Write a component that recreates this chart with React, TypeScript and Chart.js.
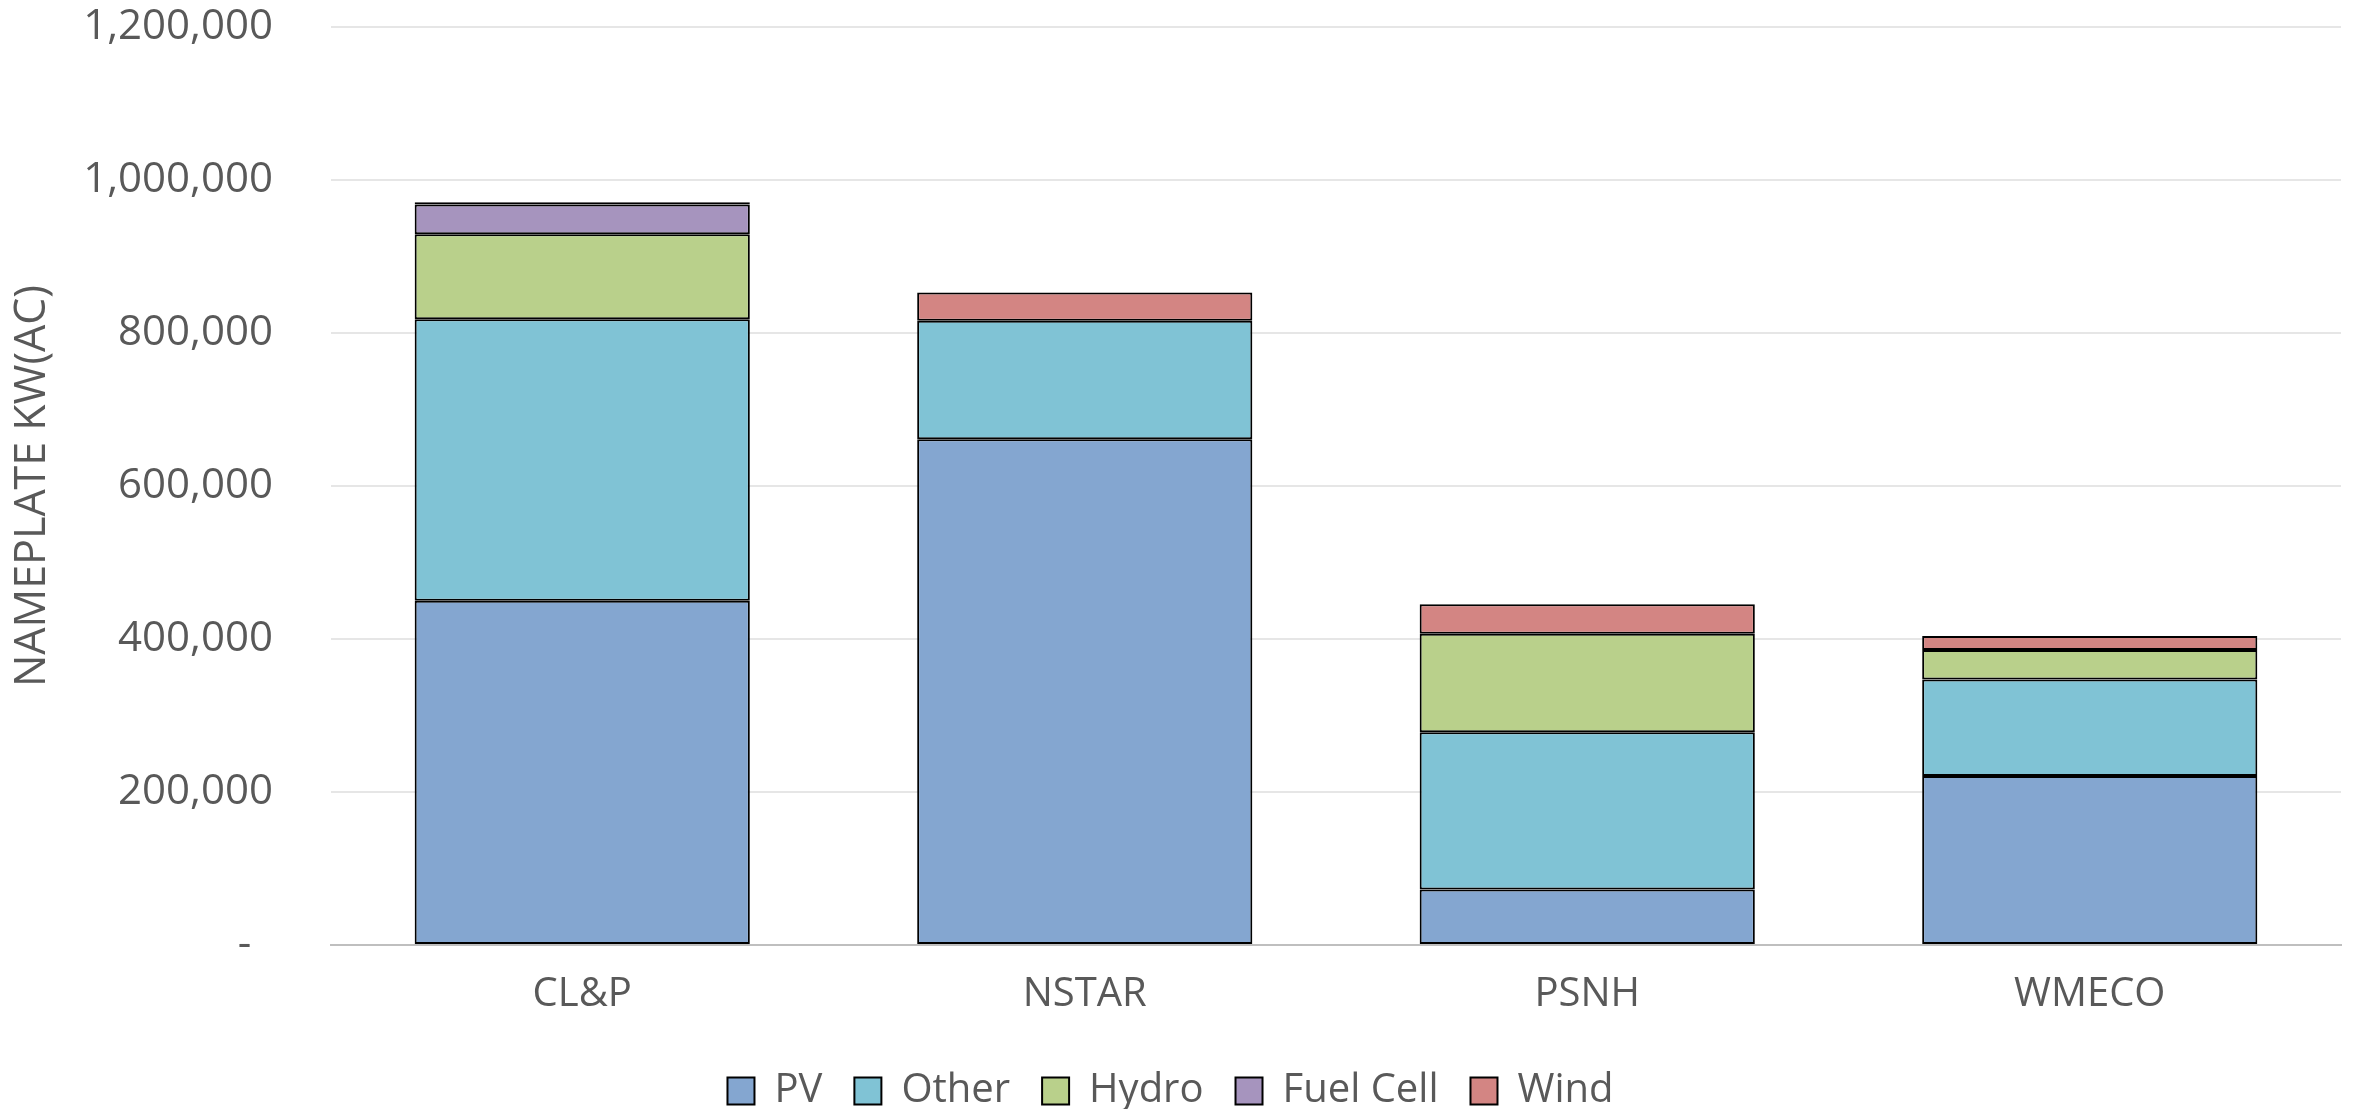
import React, { useEffect, useRef } from "react";
import { Chart, registerables } from "chart.js";

Chart.register(...registerables);

const categories = ["CL&P", "NSTAR", "PSNH", "WMECO"];
const seriesNames = ["PV", "Other", "Hydro", "Fuel Cell", "Wind"];
const pvValues = [450000, 661000, 72500, 221000];
const otherValues = [368000, 155000, 205500, 126000];
const hydroValues = [111000, 0, 129000, 38500];
const fuelCellValues = [39000, 0, 0, 0];
const windValues = [3000, 37000, 38500, 18500];
const seriesColors = ["#84A6D0", "#80C3D5", "#B9D08B", "#A694BE", "#D38583"];
const yMin = 0;
const yMax = 1200000;
const yStep = 200000;
const yTitle = "NAMEPLATE KW(AC)";

const FONT = "'Open Sans', sans-serif";
const TEXT = "#595959";

export default function App() {
  const ref = useRef<HTMLCanvasElement | null>(null);

  useEffect(() => {
    if (!ref.current) return;
    const values = [pvValues, otherValues, hydroValues, fuelCellValues, windValues];
    const chart = new Chart(ref.current, {
      type: "bar",
      data: {
        labels: categories,
        datasets: seriesNames.map((name, i) => ({
          label: name,
          data: values[i],
          backgroundColor: seriesColors[i],
          borderColor: "#000000",
          borderWidth: 2,
          borderSkipped: false,
          categoryPercentage: 1,
          barPercentage: 0.667,
        })),
      },
      options: {
        animation: false,
        responsive: true,
        maintainAspectRatio: false,
        layout: { padding: { top: 27, right: 15, bottom: -12, left: 0 } },
        plugins: {
          tooltip: { enabled: false },
          legend: {
            position: "bottom",
            labels: {
              font: { family: FONT, size: 40 },
              color: TEXT,
              boxWidth: 27,
              boxHeight: 27,
              padding: 32,
            },
          },
        },
        scales: {
          x: {
            stacked: true,
            grid: { display: false, drawTicks: false },
            border: { display: true, color: "#BFBFBF", width: 2 },
            ticks: {
              font: { family: FONT, size: 40 },
              color: TEXT,
              padding: 26,
            },
            afterFit: (scale: any) => {
              scale.height = 94;
            },
          },
          y: {
            stacked: true,
            min: yMin,
            max: yMax,
            border: { display: false },
            grid: {
              drawTicks: true,
              tickLength: 58,
              tickColor: "rgba(0,0,0,0)",
              lineWidth: 2,
              color: (ctx: any) => (ctx.tick && ctx.tick.value === 0 ? "#BFBFBF" : "#E6E6E6"),
            },
            ticks: {
              stepSize: yStep,
              font: { family: FONT, size: 42 },
              color: TEXT,
              padding: 0,
              callback: (v: any) => (Number(v) === 0 ? "-  " : Number(v).toLocaleString("en-US")),
            },
            title: {
              display: true,
              text: yTitle,
              font: { family: FONT, size: 43 },
              color: TEXT,
              padding: { top: 7, bottom: 0 },
            },
            afterFit: (scale: any) => {
              scale.width = 331;
            },
          },
        },
      },
    });
    return () => chart.destroy();
  }, []);

  return (
    <div style={{ position: "fixed", left: 0, top: 0, width: 2356, height: 1109, background: "#fff" }}>
      <canvas ref={ref} />
    </div>
  );
}
